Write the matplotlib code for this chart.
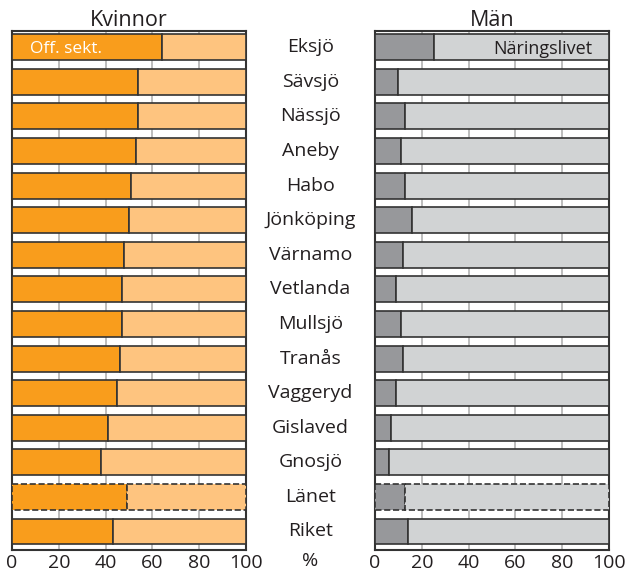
import matplotlib.pyplot as plt
from matplotlib.transforms import blended_transform_factory

plt.rcParams['font.family'] = ['Open Sans', 'DejaVu Sans']

kommuner = ["Eksjö", "Sävsjö", "Nässjö", "Aneby", "Habo", "Jönköping", "Värnamo",
            "Vetlanda", "Mullsjö", "Tranås", "Vaggeryd", "Gislaved", "Gnosjö",
            "Länet", "Riket"]
kvinnor_off = [64, 54, 54, 53, 51, 50, 48, 47, 47, 46, 45, 41, 38, 49, 43]
man_off = [25, 10, 13, 11, 13, 16, 12, 9, 11, 12, 9, 7, 6, 13, 14]
ticks = [0, 20, 40, 60, 80, 100]

fig = plt.figure(figsize=(6.29, 5.72), dpi=100)
ax1 = fig.add_axes([12 / 629, 22 / 572, 234 / 629, 519 / 572])
ax2 = fig.add_axes([375 / 629, 22 / 572, 234 / 629, 519 / 572])

y = list(range(len(kommuner)))
edge = '#333333'

for ax, off, dark, light in [(ax1, kvinnor_off, '#f99d1c', '#fec47f'),
                             (ax2, man_off, '#97989b', '#d1d3d4')]:
    rest = [100 - v for v in off]
    styles = ['--' if k == "Länet" else '-' for k in kommuner]
    for i in y:
        ax.barh(i, off[i], height=0.75, color=dark, edgecolor=edge,
                linewidth=1.2, linestyle=styles[i], zorder=3)
        ax.barh(i, rest[i], left=off[i], height=0.75, color=light, edgecolor=edge,
                linewidth=1.2, linestyle=styles[i], zorder=3)
    ax.set_xlim(0, 100)
    ax.set_ylim(len(kommuner) - 1 + 0.535, -0.47)
    ax.set_xticks(ticks)
    ax.set_yticks([])
    ax.tick_params(axis='x', length=0, pad=3, labelsize=14, colors='#231f20')
    ax.grid(axis='x', color='#bdbdbd', linewidth=1.4, zorder=0)
    for s in ax.spines.values():
        s.set_color(edge)
        s.set_linewidth(1.5)

ax1.set_title("Kvinnor", fontsize=15.5, pad=3, color='#231f20')
ax2.set_title("Män", fontsize=15.5, pad=3, color='#231f20')

ax1.text(7.5, 0.05, "Off. sekt.", color='white', fontsize=12.5, va='center', zorder=4)
ax2.text(92.7, 0.05, "Näringslivet", color='#231f20', fontsize=13, va='center',
         ha='right', zorder=4)

# kommunnamn mellan diagrammen
tr = blended_transform_factory(ax1.transAxes, ax1.transData)
for i, k in enumerate(kommuner):
    ax1.text(1.2756, i, k, transform=tr, ha='center', va='center',
             fontsize=14, color='#231f20')
ax1.text(1.2756, -0.021, "%", transform=ax1.transAxes, ha='center', va='center',
         fontsize=14, color='#231f20')

fig.savefig("out.png", dpi=100)
